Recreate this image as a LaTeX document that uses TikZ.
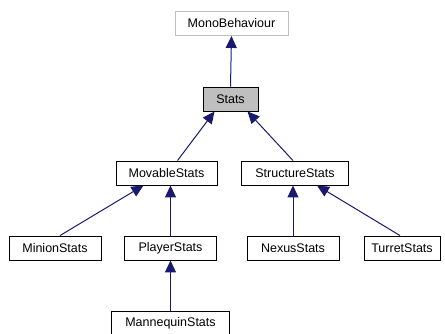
\documentclass[tikz,border=0pt]{standalone}
\usepackage{fontspec}
\setmainfont{Liberation Sans}
\usetikzlibrary{arrows.meta}
\definecolor{navy}{HTML}{191970}
\definecolor{boxgray}{HTML}{BFBFBF}
\begin{document}
\begin{tikzpicture}[x=1pt,y=-1pt,
  cls/.style={draw=black,line width=0.9pt,fill=white,minimum height=24pt,inner sep=0pt,font=\fontsize{12.5}{14}\selectfont},
  inh/.style={draw=navy,line width=1pt,-{Triangle[length=12pt,width=11pt]}}]
\useasboundingbox (0,0) rectangle (445,334);
\node[cls,draw=boxgray,minimum width=113pt] (mono) at (231.5,23.5) {MonoBehaviour};
\node[cls,fill=boxgray,minimum width=55pt] (stats) at (230.5,99) {Stats};
\node[cls,minimum width=101pt] (movable) at (166.5,173) {MovableStats};
\node[cls,minimum width=107pt] (structure) at (295,173) {StructureStats};
\node[cls,minimum width=92pt] (minion) at (55,248) {MinionStats};
\node[cls,minimum width=92pt] (player) at (170.5,248) {PlayerStats};
\node[cls,minimum width=92pt] (nexus) at (293,248) {NexusStats};
\node[cls,minimum width=76pt] (turret) at (402,248) {TurretStats};
\node[cls,minimum width=118pt] (manneq) at (170.5,323) {MannequinStats};
\draw[inh] (stats.north) -- (mono.south);
\draw[inh] ([xshift=11pt]movable.north) -- ([xshift=-16pt]stats.south);
\draw[inh] ([xshift=-2pt]structure.north) -- ([xshift=17pt]stats.south);
\draw[inh] ([xshift=5pt]minion.north) -- ([xshift=-23pt]movable.south);
\draw[inh] (player.north) -- ([xshift=4pt]movable.south);
\draw[inh] (nexus.north) -- ([xshift=-2pt]structure.south);
\draw[inh] ([xshift=-2pt]turret.north) -- ([xshift=22pt]structure.south);
\draw[inh] (manneq.north) -- (player.south);
\end{tikzpicture}
\end{document}
